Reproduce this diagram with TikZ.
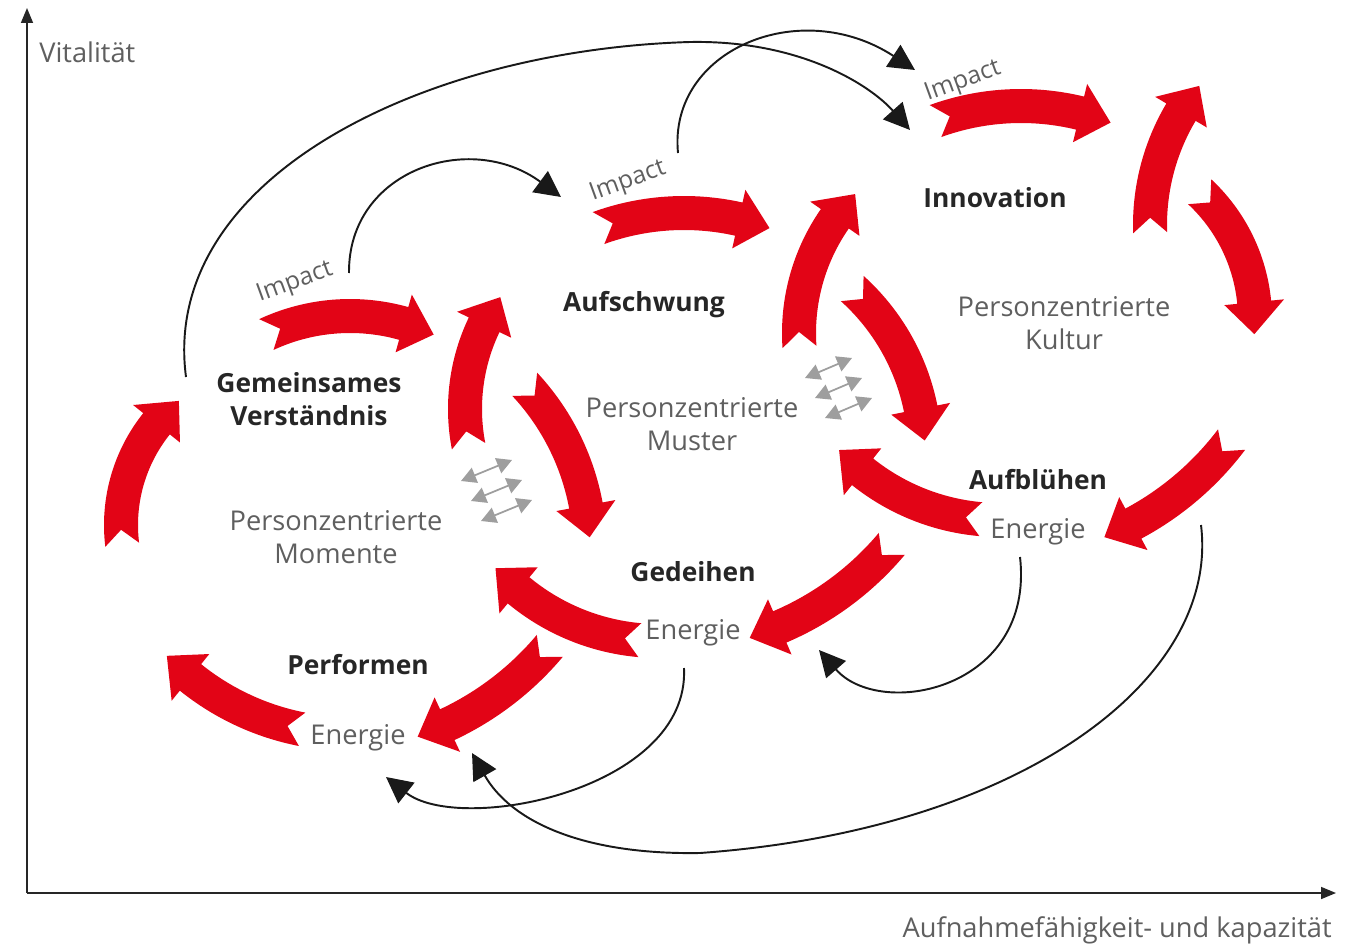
\documentclass[tikz,border=0pt]{standalone}
\usepackage{fontspec}
\setmainfont{Open Sans}
\usetikzlibrary{arrows.meta,calc}
\definecolor{ringred}{RGB}{226,4,22}
\definecolor{notegray}{RGB}{95,95,95}
\tikzset{
  phase/.style={font=\fontsize{15}{18.5}\selectfont\bfseries,text=black!85,align=center,inner sep=0pt},
  note/.style={font=\fontsize{15.5}{18.5}\selectfont,text=notegray,align=center,inner sep=0pt},
  impact/.style={note,font=\fontsize{14}{16}\selectfont,rotate=20},
  feedback/.style={draw=black!90,line width=1.1pt,-{Triangle[length=0.52cm,width=0.52cm]}},
  swap/.style={draw=black!38,line width=1pt,{Triangle[length=0.3cm,width=0.32cm]}-{Triangle[length=0.3cm,width=0.32cm]}},
  axis/.style={draw=black!85,line width=0.9pt,-{Triangle[length=0.3cm,width=0.24cm]}}
}
% curved red ribbon arrow: centre x, centre y, radius, tail angle, head angle
\def\rw{17}\def\rwh{30}\def\rhead{32}\def\rcut{15}
\newcommand{\ribbon}[5]{%
  \pgfmathsetmacro{\rdir}{(#5>#4) ? 1 : -1}%
  \pgfmathsetmacro{\rbase}{#5-\rdir*\rhead/#3*57.2958}%
  \pgfmathsetmacro{\rnotch}{#4+\rdir*\rcut/#3*57.2958}%
  \pgfmathsetmacro{\rout}{#3+\rw}\pgfmathsetmacro{\rin}{#3-\rw}%
  \pgfmathsetmacro{\rhi}{#3+\rwh}\pgfmathsetmacro{\rlo}{#3-\rwh}%
  \fill[ringred,shift={(#1,#2)}] (#4:\rout) arc[start angle=#4,end angle=\rbase,radius=\rout]
    -- (\rbase:\rhi) -- (#5:#3) -- (\rbase:\rlo) -- (\rbase:\rin)
    arc[start angle=\rbase,end angle=#4,radius=\rin] -- (\rnotch:#3) -- cycle;}

\begin{document}
\begin{tikzpicture}[x=0.02cm,y=0.02cm,yscale=-1]
\useasboundingbox (0,0) rectangle (1356,946);

% axes
\coordinate (o) at (27,893);
\draw[axis] (o) -- (27,8);
\draw[axis] (o) -- (1336,893);
\node[note,anchor=west] (vy) at (39,52) {Vitalität};
\node[note,anchor=east] (vx) at (1332,930) {Aufnahmefähigkeit- und kapazität};

% red loops
\ribbon{351}{478}{256}{101}{136}
\ribbon{283}{525}{162}{173}{230}
\ribbon{350}{514}{198}{-115}{-65}
\ribbon{660}{409}{195}{169}{215}
\ribbon{347}{550}{243}{-43}{-3}
\ribbon{659}{421}{220}{95}{138}
\ribbon{320}{453}{300}{40}{71}
\ribbon{684}{463}{250}{-110}{-70}
\ribbon{999}{333}{200}{176}{224}
\ribbon{705}{452}{220}{-48}{-3}
\ribbon{1000}{300}{220}{95}{137}
\ribbon{662}{351}{300}{40}{73}
\ribbon{1021}{356}{250}{-110}{-69}
\ribbon{1371}{225}{221}{178}{219}
\ribbon{1081}{319}{174}{-47}{5}
\ribbon{992}{259}{300}{37}{68}

% labels
\node[phase] (gem) at (309,399) {Gemeinsames\\Verständnis};
\node[note]  (mom) at (336,537) {Personzentrierte\\Momente};
\node[phase] (perf) at (358,665) {Performen};
\node[note]  (en1) at (358,738) {Energie};
\node[phase] (auf) at (644,305) {Aufschwung};
\node[note]  (mus) at (692,424) {Personzentrierte\\Muster};
\node[phase] (ged) at (693,572) {Gedeihen};
\node[note]  (en2) at (693,633) {Energie};
\node[phase] (inn) at (995,198) {Innovation};
\node[note]  (kul) at (1064,323) {Personzentrierte\\Kultur};
\node[phase] (blu) at (1038,480) {Aufblühen};
\node[note]  (en3) at (1038,532) {Energie};
\node[impact] (imp1) at (295,283) {Impact};
\node[impact] (imp2) at (628,182) {Impact};
\node[impact] (imp3) at (963,82) {Impact};

% exchange
\coordinate (sw1) at (461,481);
\coordinate (sw2) at (805,378);
\foreach \i in {0,1,2}{
  \draw[swap] ($(sw1)+(\i*10,\i*20)$) -- ($(sw1)+(51+\i*10,-21+\i*20)$);
  \draw[swap] ($(sw2)+(\i*10,\i*20)$) -- ($(sw2)+(47+\i*10,-20+\i*20)$);
}

% feedback
\coordinate (a1) at (349,273);   \coordinate (b1) at (561,197);
\coordinate (a2) at (678,153);   \coordinate (b2) at (915,70);
\coordinate (a3) at (186,377);   \coordinate (b3) at (910,130);
\coordinate (a4) at (684,668);   \coordinate (b4) at (386,777);
\coordinate (a5) at (1020,557);  \coordinate (b5) at (819,650);
\coordinate (a6) at (1201,525);  \coordinate (b6) at (472,753);
\draw[feedback] (a1) .. controls (348,170) and (470,130) .. (b1);
\draw[feedback] (a2) .. controls (668,50) and (800,-5) .. (b2);
\draw[feedback] (a3) .. controls (160,180) and (420,50) .. (690,42)
  .. controls (800,40) and (870,85) .. (b3);
\draw[feedback] (a4) .. controls (690,790) and (460,835) .. (b4);
\draw[feedback] (a5) .. controls (1035,690) and (880,720) .. (b5);
\draw[feedback] (a6) .. controls (1220,680) and (1020,830) .. (700,853)
  .. controls (580,855) and (510,820) .. (b6);
\end{tikzpicture}
\end{document}
